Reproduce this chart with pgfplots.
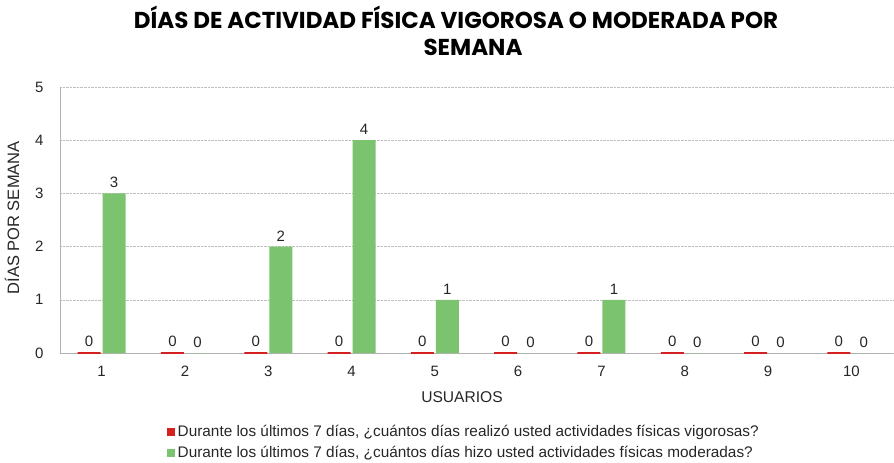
\documentclass[border=0pt]{standalone}
\usepackage{pgfplots}
\pgfplotsset{compat=1.18}
\usepackage{pgfplotstable}
\usepackage{fontspec}
\setmainfont{Liberation Sans}
\newfontfamily\titlefont{Poppins}
\definecolor{vig}{HTML}{D42020}
\definecolor{mod}{HTML}{7CC36F}
\definecolor{txt}{HTML}{262626}

\pgfplotstableread{
x vig mod
1 0 3
2 0 0
3 0 2
4 0 4
5 0 1
6 0 0
7 0 1
8 0 0
9 0 0
10 0 0
}\datatable

\begin{document}
\begin{tikzpicture}
\begin{axis}[
  scale only axis, width=833bp, height=266bp,
  xmin=0.5, xmax=10.5, ymin=0, ymax=5,
  ybar=2bp, bar width=23bp,
  xtick={1,...,10}, ytick={0,...,5},
  major tick length=0pt,
  axis lines*=left,
  axis line style={draw=black!30, line width=0.8bp},
  ymajorgrids, grid style={densely dotted, draw=black!25, line width=0.6bp},
  clip=false,
  /pgf/number format/assume math mode=true,
  ticklabel style={font=\fontsize{15bp}{17bp}\selectfont, text=txt},
  xticklabel style={yshift=-9.5bp},
  yticklabel style={xshift=-13bp},
  xlabel={USUARIOS}, ylabel={DÍAS POR SEMANA},
  every axis x label/.style={at={(axis description cs:0.4826,-0.1654)}, anchor=center,
     font=\fontsize{15.6bp}{17bp}\selectfont, text=txt},
  every axis y label/.style={at={(axis description cs:-0.0576,0.508)}, anchor=center, rotate=90,
     font=\fontsize{16.5bp}{18bp}\selectfont, text=txt},
  nodes near coords,
  every node near coord/.append style={font=\fontsize{15bp}{17bp}\selectfont, text=txt, yshift=2bp},
  legend cell align=left,
  legend image code/.code={\fill[#1, draw=none] (0bp,-3.5bp) rectangle (7.5bp,4bp);},
  legend style={at={(axis description cs:0.1285,-0.27)}, anchor=north west, draw=none, fill=none,
     font=\fontsize{15.35bp}{17bp}\selectfont, text=txt, inner sep=0pt,
     nodes={inner sep=0pt, text height=11bp, text depth=3bp},
     row sep=7bp, column sep=3bp},
]
\addplot[fill=vig, draw=vig, line width=1.6bp] table[x=x, y=vig] {\datatable};
\addlegendentry{Durante los últimos 7 días, ¿cuántos días realizó usted actividades físicas vigorosas?}
\addplot[fill=mod, draw=none] table[x=x, y=mod] {\datatable};
\addlegendentry{Durante los últimos 7 días, ¿cuántos días hizo usted actividades físicas moderadas?}
\node[font=\titlefont\bfseries\fontsize{23bp}{26bp}\selectfont, text=black] at (rel axis cs:0.4754,1.262) {DÍAS DE ACTIVIDAD FÍSICA VIGOROSA O MODERADA POR};
\node[font=\titlefont\bfseries\fontsize{23bp}{26bp}\selectfont, text=black] at (rel axis cs:0.4958,1.150) {SEMANA};
\end{axis}
\pgfresetboundingbox
\path[use as bounding box] ([shift={(-60bp,-110bp)}]current axis.south west) rectangle ([shift={(834bp,353bp)}]current axis.south west);
\end{tikzpicture}
\end{document}
